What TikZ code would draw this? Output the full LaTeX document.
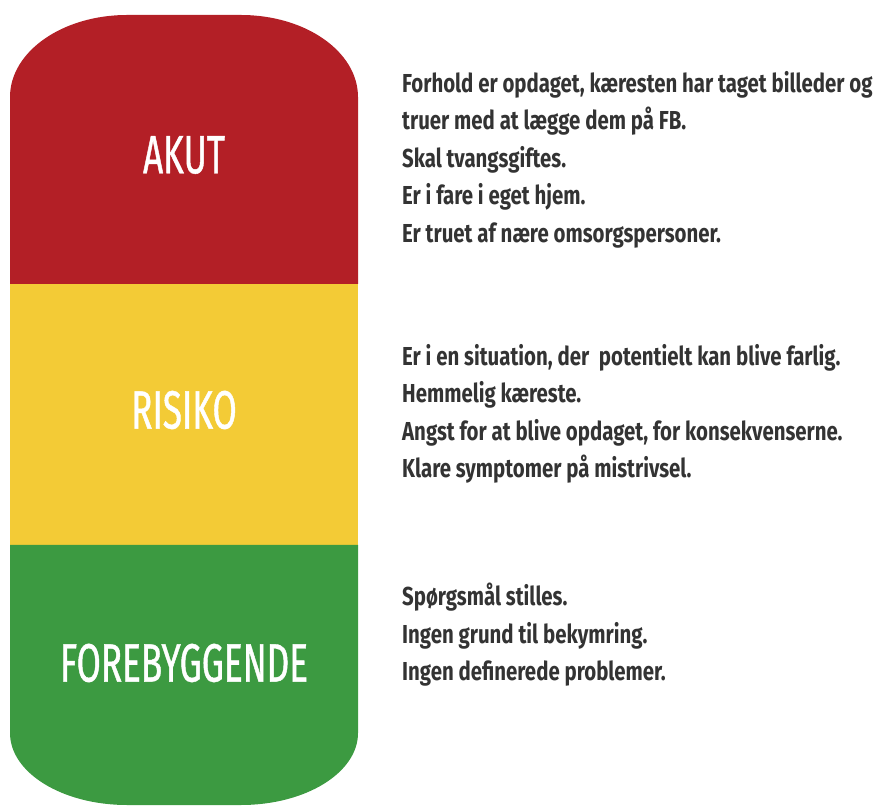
\documentclass[tikz,border=0pt]{standalone}
\usepackage{fontspec}
\usetikzlibrary{positioning}
\newfontfamily\levelfont[FakeStretch=0.65,FakeBold=0.8]{Fira Sans}
\newfontfamily\notefont[FakeStretch=0.785]{Fira Sans}
\definecolor{AkutRed}{HTML}{B31F26}
\definecolor{RisikoYellow}{HTML}{F3CB36}
\definecolor{ForebygGreen}{HTML}{3C9A41}
\definecolor{NoteGray}{HTML}{333333}

\begin{document}
\begin{tikzpicture}[x=1pt,y=1pt,
    level/.style={text=white,font=\levelfont\fontsize{54}{60}\selectfont},
    note/.style={anchor=north west,inner sep=0pt,align=left,text=NoteGray,
      font=\notefont\bfseries\fontsize{26}{37.5}\selectfont}]
    \useasboundingbox (0,0) rectangle (876,807);

    % the three bands of the pill
    \fill[AkutRed] (10,523) -- (10,710)
      arc[start angle=180,end angle=90,x radius=117,y radius=82] -- (241,792)
      arc[start angle=90,end angle=0,x radius=117,y radius=82] -- (358,523) -- cycle;
    \fill[RisikoYellow] (10,262) rectangle (358,523);
    \fill[ForebygGreen] (10,262) -- (10,74)
      arc[start angle=180,end angle=270,x radius=117,y radius=72] -- (241,2)
      arc[start angle=270,end angle=360,x radius=117,y radius=72] -- (358,262) -- cycle;

    \node[level] (akut) at (184,652) {AKUT};
    \node[level] (risiko) at (184,397) {RISIKO};
    \node[level] (forebyg) at (184,144) {FOREBYGGENDE};

    \node[note] (akutnote) at (402,736) {Forhold er opdaget, kæresten har taget billeder og\\
      truer med at lægge dem på FB.\\Skal tvangsgiftes.\\Er i fare i eget hjem.\\
      Er truet af nære omsorgspersoner.};
    \node[note] (risikonote) at (402,463) {Er i en situation, der\ \ potentielt kan blive farlig.\\
      Hemmelig kæreste.\\Angst for at blive opdaget, for konsekvenserne.\\
      Klare symptomer på mistrivsel.};
    \node[note] (forebygnote) at (402,224) {Spørgsmål stilles.\\Ingen grund til bekymring.\\
      Ingen definerede problemer.};
  \end{tikzpicture}
\end{document}
